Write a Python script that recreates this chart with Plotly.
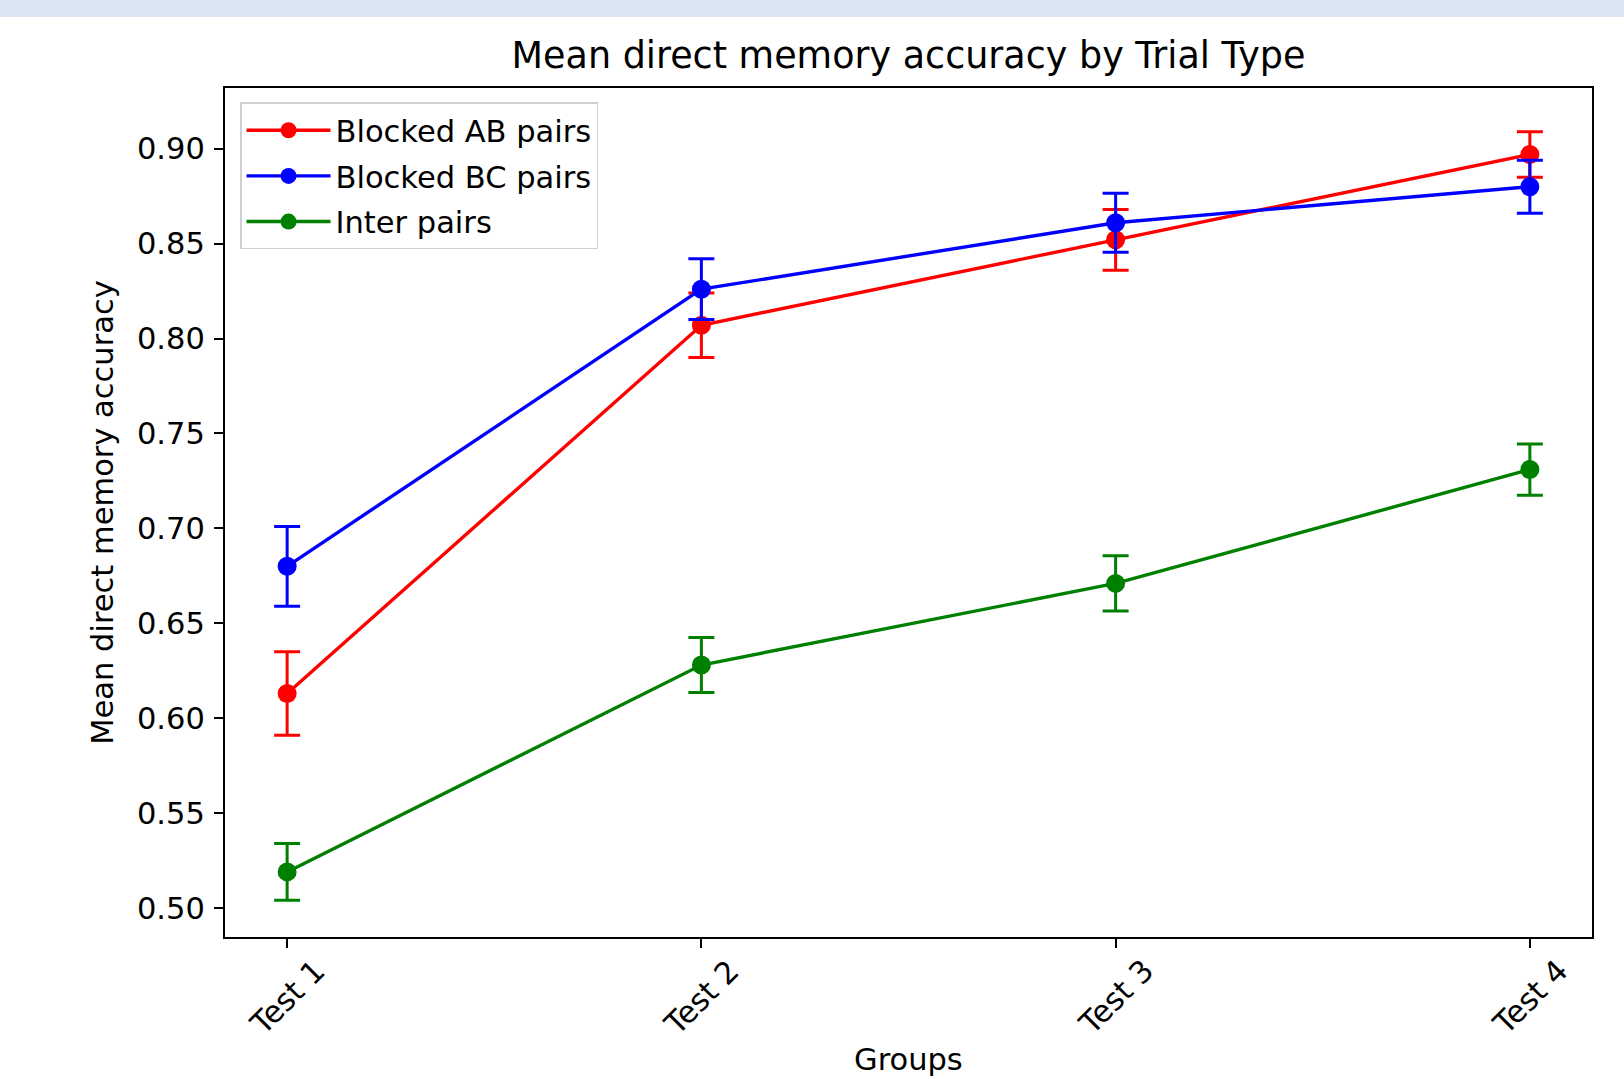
import plotly.graph_objects as go

# Mean accuracy per test session, with error-bar half-widths
groups = ["Test 1", "Test 2", "Test 3", "Test 4"]

ab_mean = [0.613, 0.807, 0.852, 0.897]
ab_err = [0.022, 0.017, 0.016, 0.012]

bc_mean = [0.680, 0.826, 0.861, 0.880]
bc_err = [0.021, 0.016, 0.0155, 0.014]

inter_mean = [0.519, 0.628, 0.671, 0.731]
inter_err = [0.015, 0.0145, 0.0145, 0.0135]

series_names = ["Blocked AB pairs", "Blocked BC pairs", "Inter pairs"]
series_colors = ["#ff0000", "#0000ff", "#008000"]

y_ticks = [0.50, 0.55, 0.60, 0.65, 0.70, 0.75, 0.80, 0.85, 0.90]

FONT = "DejaVu Sans"
BASE = 30.5

W, H = 1624, 1079
M_L, M_R, M_T, M_B = 225, 32, 88, 142
PLOT_W = W - M_L - M_R
PLOT_H = H - M_T - M_B

fig = go.Figure()

for name, mean, err, color in zip(
    series_names,
    [ab_mean, bc_mean, inter_mean],
    [ab_err, bc_err, inter_err],
    series_colors,
):
    fig.add_trace(
        go.Scatter(
            x=groups,
            y=mean,
            name=name,
            legendgroup=name,
            mode="lines+markers",
            line=dict(color=color, width=3.4),
            marker=dict(color=color, size=19),
            error_y=dict(
                type="data",
                array=err,
                visible=True,
                color=color,
                thickness=3,
                width=13,
            ),
        )
    )

# Rotated category labels centred under each tick
for g in groups:
    fig.add_annotation(
        x=g,
        y=0,
        xref="x",
        yref="paper",
        text=g,
        textangle=-45,
        showarrow=False,
        xanchor="center",
        yanchor="top",
        yshift=-13,
        font=dict(family=FONT, size=BASE, color="black"),
    )

# x-axis title below the rotated labels
fig.add_annotation(
    x=0.5,
    y=0,
    xref="paper",
    yref="paper",
    text="Groups",
    showarrow=False,
    xanchor="center",
    yanchor="middle",
    yshift=-122,
    font=dict(family=FONT, size=BASE, color="black"),
)

# Light header strip across the top of the page
fig.add_shape(
    type="rect",
    xref="paper",
    yref="paper",
    x0=-M_L / PLOT_W,
    x1=1 + M_R / PLOT_W,
    y0=1 + (M_T - 17) / PLOT_H,
    y1=1 + M_T / PLOT_H,
    line=dict(width=0),
    fillcolor="#dce6f2",
    layer="below",
)

fig.update_layout(
    width=W,
    height=H,
    margin=dict(l=M_L, r=M_R, t=M_T, b=M_B, autoexpand=False),
    paper_bgcolor="white",
    plot_bgcolor="white",
    font=dict(family=FONT, size=BASE, color="black"),
    title=dict(
        text="Mean direct memory accuracy by Trial Type",
        x=0.5,
        xref="paper",
        xanchor="center",
        y=1 - 55 / H,
        yref="container",
        yanchor="middle",
        font=dict(family=FONT, size=36.5, color="black"),
    ),
    showlegend=True,
    legend=dict(
        x=0.011,
        y=0.983,
        xanchor="left",
        yanchor="top",
        bgcolor="rgba(255,255,255,0.8)",
        bordercolor="#d0d0d0",
        borderwidth=1.5,
        font=dict(family=FONT, size=BASE, color="black"),
        tracegroupgap=3,
        itemwidth=84,
    ),
    xaxis=dict(
        type="category",
        range=[-0.15, 3.15],
        automargin=False,
        showline=True,
        mirror=True,
        linecolor="black",
        linewidth=2,
        ticks="outside",
        ticklen=9,
        tickwidth=2,
        tickcolor="black",
        showticklabels=False,
        showgrid=False,
        zeroline=False,
    ),
    yaxis=dict(
        range=[0.4847, 0.932],
        automargin=False,
        tickvals=y_ticks,
        tickformat=".2f",
        showline=True,
        mirror=True,
        linecolor="black",
        linewidth=2,
        ticks="outside",
        ticklen=9,
        tickwidth=2,
        tickcolor="black",
        ticklabelstandoff=3,
        showgrid=False,
        zeroline=False,
        title=dict(
            text="Mean direct memory accuracy",
            standoff=14,
            font=dict(family=FONT, size=BASE, color="black"),
        ),
    ),
)

fig.write_html("out.html")
